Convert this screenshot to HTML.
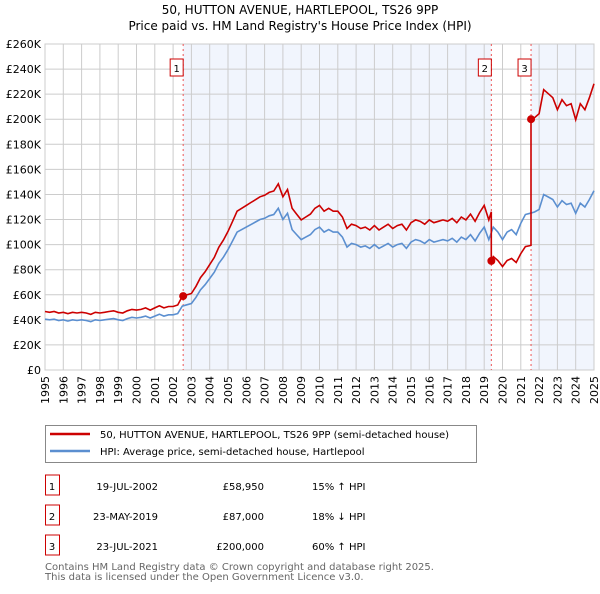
<!DOCTYPE html>
<html><head><meta charset="utf-8">
<style>
body{margin:0;background:#fff;width:600px;height:590px;overflow:hidden;font-family:"DejaVu Sans","Liberation Sans",sans-serif;}
svg text{font-family:"DejaVu Sans","Liberation Sans",sans-serif;}
</style></head>
<body>
<svg id="chart" width="600" height="590" xmlns="http://www.w3.org/2000/svg">
<text x="300" y="14" text-anchor="middle" font-size="12" fill="#000">50, HUTTON AVENUE, HARTLEPOOL, TS26 9PP</text>
<text x="300" y="30" text-anchor="middle" font-size="12" fill="#000">Price paid vs. HM Land Registry's House Price Index (HPI)</text>
<g id="plot"></g>
<g>
<rect x="45.5" y="425.5" width="431" height="37" fill="#fff" stroke="#888" stroke-width="1"/>
<line x1="50" y1="434" x2="90" y2="434" stroke="#cc0000" stroke-width="2.5"/>
<text x="100" y="438" font-size="10">50, HUTTON AVENUE, HARTLEPOOL, TS26 9PP (semi-detached house)</text>
<line x1="50" y1="451" x2="90" y2="451" stroke="#5b8fd0" stroke-width="2.5"/>
<text x="100" y="455" font-size="10">HPI: Average price, semi-detached house, Hartlepool</text>
</g>
<g id="table" font-size="10"></g>
<text x="45" y="570" font-size="10" fill="#666">Contains HM Land Registry data © Crown copyright and database right 2025.</text>
<text x="45" y="580" font-size="10" fill="#666">This data is licensed under the Open Government Licence v3.0.</text>
</svg>
<script>
const hpiStartYear=1995;
const hpiStep=0.25;
const hpiValues=[40.5,40,40.5,39.5, 40,39,40,39.5, 40,39.5,38.5,40, 39.5,40,40.5,41, 40,39.5,41,42, 41.5,42,43,41.5, 43,44.5,43,44, 44,45,51,52, 53,58,64,68, 73,78,85,90, 96,103,110,112, 114,116,118,120, 121,123,124,129, 120,125,112,108, 104,106,108,112, 114,110,112,110, 110,106,98,101, 100,98,99,97, 100,97,99,101, 98,100,101,97, 102,104,103,101, 104,102,103,104, 103,105,102,106, 104,108,103,109, 114,104,114,110, 104,110,112,108, 117,124,125,126, 128,140,138,136, 130,135,132,133, 125,133,130,136, 143];
const saleLabels=["1","2","3"];
const saleYears=[2002.55,2019.39,2021.56];
const salePrices=[58.95,87,200];
const saleDates=["19-JUL-2002","23-MAY-2019","23-JUL-2021"];
const salePriceText=["£58,950","£87,000","£200,000"];
const saleDiffText=["15% ↑ HPI","18% ↓ HPI","60% ↑ HPI"];
const yTicks=[0,20,40,60,80,100,120,140,160,180,200,220,240,260];
const xTicks=[1995,1996,1997,1998,1999,2000,2001,2002,2003,2004,2005,2006,2007,2008,2009,2010,2011,2012,2013,2014,2015,2016,2017,2018,2019,2020,2021,2022,2023,2024,2025];

const NS="http://www.w3.org/2000/svg";
const X0=45,X1=594,Y0=370,Y1=44,xmin=1995,xmax=2025,ymax=260;
const xs=v=>X0+(v-xmin)/(xmax-xmin)*(X1-X0);
const ys=v=>Y0-v/ymax*(Y0-Y1);
const plot=document.getElementById('plot');
const hpiYears=hpiValues.map((v,i)=>hpiStartYear+i*hpiStep);
function mk(tag,attrs,parent){const e=document.createElementNS(NS,tag);for(const k in attrs)e.setAttribute(k,attrs[k]);(parent||plot).appendChild(e);return e;}
function hpiAt(t){for(let i=0;i<hpiYears.length-1;i++){if(t<=hpiYears[i+1]){const f=(t-hpiYears[i])/(hpiYears[i+1]-hpiYears[i]);return hpiValues[i]+f*(hpiValues[i+1]-hpiValues[i]);}}return hpiValues[hpiValues.length-1];}

let sh=mk('rect',{x:xs(saleYears[0]),y:Y1,width:xs(saleYears[1])-xs(saleYears[0]),height:Y0-Y1,fill:'#f1f5fd'});


sh=mk('rect',{x:xs(saleYears[2]),y:Y1,width:X1-xs(saleYears[2]),height:Y0-Y1,fill:'#f1f5fd'});



yTicks.forEach(v=>{
  const g=mk('line',{x1:X0,x2:X1,y1:ys(v),y2:ys(v),stroke:'#cccccc','stroke-width':1});
  
  
  const t=mk('text',{x:X0-4,y:ys(v)+4,'text-anchor':'end','font-size':'11',fill:'#000'});
  t.textContent=v===0?'£0':'£'+v+'K';
  
  
});
xTicks.forEach(v=>{
  const g=mk('line',{x1:xs(v),x2:xs(v),y1:Y1,y2:Y0,stroke:'#cccccc','stroke-width':1});
  
  
  const t=mk('text',{x:0,y:0,'text-anchor':'end','font-size':'11',fill:'#000',transform:`translate(${xs(v)+4},${Y0+6}) rotate(-90)`});
  t.textContent=v;
  
  
});
const fr=mk('rect',{x:X0,y:Y1,width:X1-X0,height:Y0-Y1,fill:'none',stroke:'#cccccc'});



saleYears.forEach((s,i)=>{
  const l=mk('line',{x1:xs(s),x2:xs(s),y1:Y1,y2:Y0,stroke:'#ee5555','stroke-width':1,'stroke-dasharray':'2,3'});
  
  
});

let d='';
hpiYears.forEach((t,i)=>{d+=(i?'L':'M')+xs(t).toFixed(1)+','+ys(hpiValues[i]).toFixed(1);});
const hp=mk('path',{d:d,fill:'none',stroke:'#5b8fd0','stroke-width':1.6});



function factorAt(t){let k=0;for(let i=0;i<saleYears.length;i++)if(t>=saleYears[i])k=i;return salePrices[k]/hpiAt(saleYears[k]);}
let pts=[];
hpiYears.forEach((t,i)=>{
  saleYears.forEach(s=>{if(pts.length&&pts[pts.length-1][0]<s&&t>s){pts.push([s-0.0001,hpiAt(s)*factorAt(s-0.0001)]);pts.push([s,hpiAt(s)*factorAt(s)]);}});
  pts.push([t,hpiValues[i]*factorAt(t)]);
});
d='';pts.forEach((p,i)=>{d+=(i?'L':'M')+xs(p[0]).toFixed(1)+','+ys(p[1]).toFixed(1);});
const pp=mk('path',{d:d,fill:'none',stroke:'#cc0000','stroke-width':1.6});



saleYears.forEach((s,i)=>{
  const c=mk('circle',{cx:xs(s),cy:ys(salePrices[i]),r:4,fill:'#cc0000'});
  
  
  const b=mk('rect',{x:xs(s)-13,y:59,width:13,height:17,fill:'#fff',stroke:'#cc0000'});
  
  
  const t=mk('text',{x:xs(s)-6.5,y:72,'text-anchor':'middle','font-size':'10'});
  t.textContent=saleLabels[i];
  
  
});

const tb=document.getElementById('table');
saleLabels.forEach((lab,i)=>{
  const y=487+i*30;
  const b=mk('rect',{x:45.5,y:y-12,width:14,height:20,fill:'#fff',stroke:'#cc0000'},tb);
  
  
  const cells=[[52,lab,'middle'],[158,saleDates[i],'end'],[264,salePriceText[i],'end'],[312,saleDiffText[i],'start']];
  const names=['table-row-number','table-row-date','table-row-price','table-row-hpi-diff'];
  cells.forEach((c,j)=>{
    const t=mk('text',{x:c[0],y:y+3,'text-anchor':c[2],'font-size':'10'},tb);
    t.textContent=c[1];
    
    
  });
});
</script>
</body></html>
